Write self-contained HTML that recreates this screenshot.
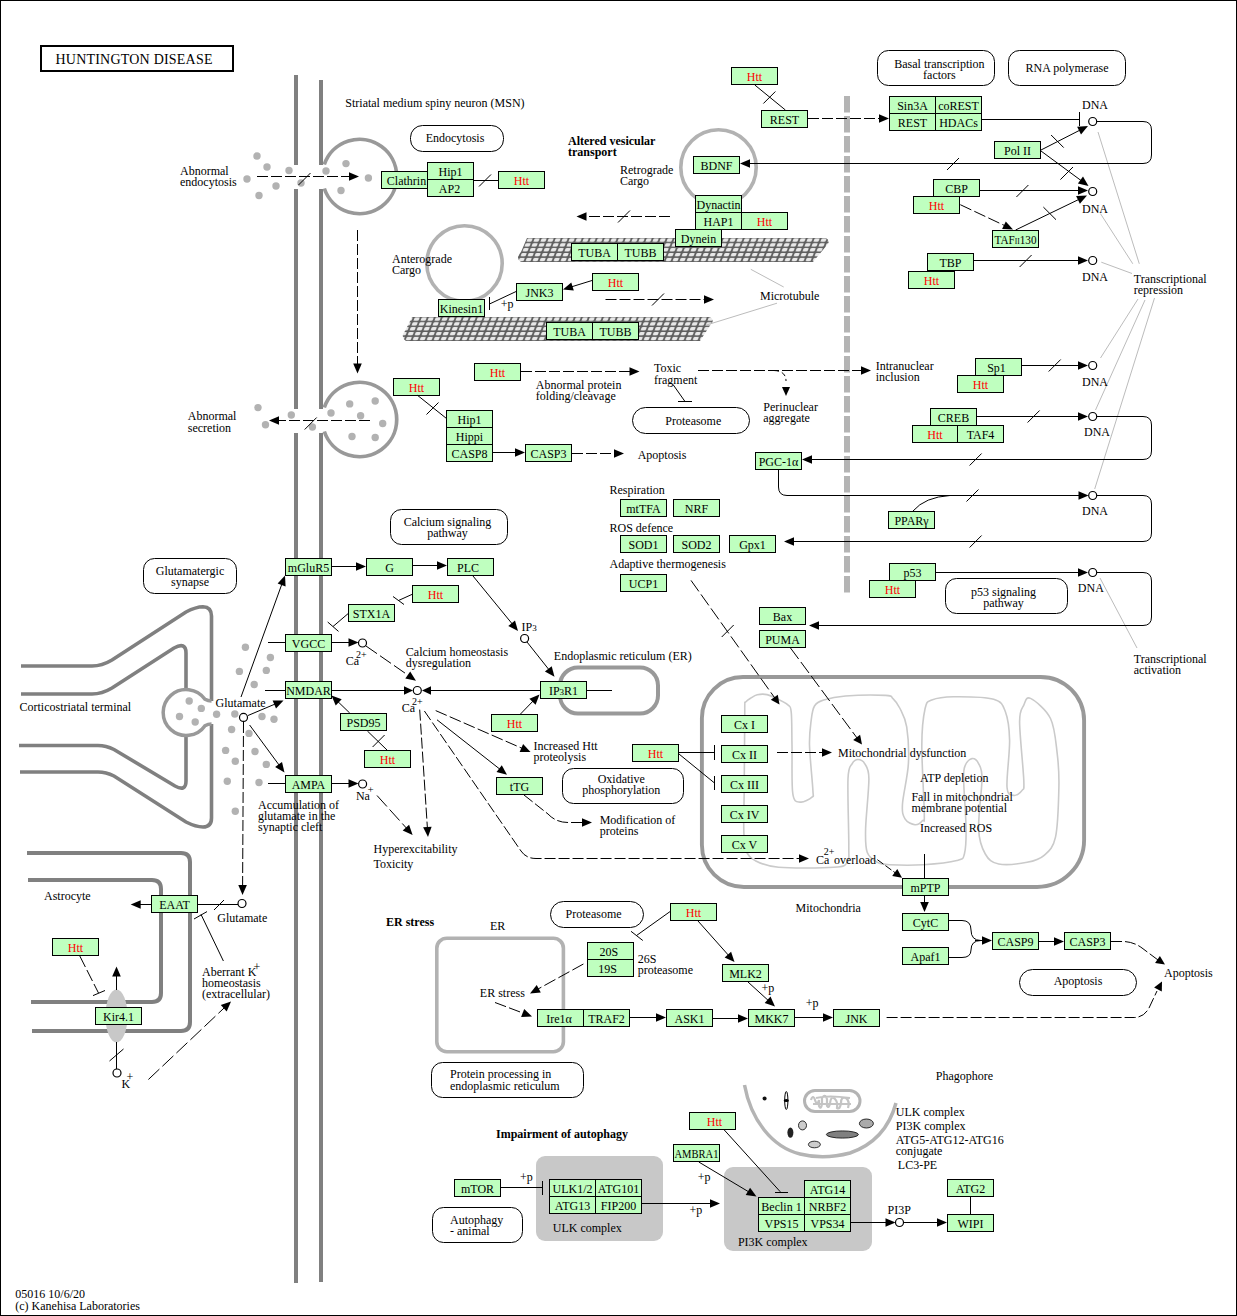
<!DOCTYPE html>
<html><head><meta charset="utf-8"><title>Huntington disease</title>
<style>
html,body{margin:0;padding:0;background:#fff;}
svg{display:block;font-family:"Liberation Serif",serif;}
text{font-family:"Liberation Serif",serif;fill:#000;}
</style></head><body>
<svg width="1237" height="1316" viewBox="0 0 1237 1316">
<defs>
<pattern id="mt" x="0" y="237.6" width="7" height="4.85" patternUnits="userSpaceOnUse" patternTransform="skewX(-22)">
<rect width="7" height="4.85" fill="#5e5e5e"/>
<rect x="1" y="0.8" width="5.1" height="3.4" rx="0.9" ry="0.9" fill="#e8e8e8"/>
</pattern>
<pattern id="mt2" x="3" y="316.6" width="7" height="4.85" patternUnits="userSpaceOnUse" patternTransform="skewX(-22)">
<rect width="7" height="4.85" fill="#5e5e5e"/>
<rect x="1" y="0.8" width="5.1" height="3.4" rx="0.9" ry="0.9" fill="#e8e8e8"/>
</pattern>
</defs>
<rect x="0" y="0" width="1237" height="1316" fill="#fff"/>
<rect x="0.5" y="0.5" width="1236" height="1315" fill="none" stroke="#000" stroke-width="1" shape-rendering="crispEdges"/>
<rect x="41" y="46" width="192" height="25" fill="#fff" stroke="#000" stroke-width="2" shape-rendering="crispEdges"/>
<text x="55.5" y="63.6" font-size="14" textLength="157" lengthAdjust="spacing">HUNTINGTON DISEASE</text>
<rect x="294" y="75" width="4" height="90" fill="#808080"/>
<rect x="294" y="189" width="4" height="220" fill="#808080"/>
<rect x="294" y="433" width="4" height="850" fill="#808080"/>
<rect x="319" y="80" width="4" height="85" fill="#808080"/>
<rect x="319" y="189" width="4" height="220" fill="#808080"/>
<rect x="319" y="433" width="4" height="849" fill="#808080"/>
<path d="M324.3,164.5 A37.2,37.2 0 1 1 324.3,188.5" fill="none" stroke="#999999" stroke-width="3.7"/>
<path d="M324.3,407.5 A37.2,37.2 0 1 1 324.3,431.5" fill="none" stroke="#999999" stroke-width="3.7"/>
<circle cx="718.5" cy="167.5" r="37.7" fill="none" stroke="#b2b2b2" stroke-width="3.6"/>
<circle cx="464.5" cy="263.5" r="37.7" fill="none" stroke="#b2b2b2" stroke-width="3.6"/>
<line x1="847" y1="96" x2="847" y2="592.5" stroke="#b4b4b4" stroke-width="6" stroke-dasharray="16.5 3.5"/>
<path d="M527,238 L826,238 Q831,241 827,245 L813,262 L521,262 Q515,258 521,252 Z" fill="url(#mt)"/>
<path d="M412,317 L710,317 Q715,320 711,324 L700,341 L406,341 Q400,337 405,331 Z" fill="url(#mt2)"/>
<path d="M21,666 L92,666 Q102,666 112,660 L186,612 Q196,606.7 203,606.7 Q211.5,607 211.5,616 L211.5,701" fill="none" stroke="#808080" stroke-width="3.6"/>
<path d="M211.5,724 L211.5,818 Q211.5,827 203,827 Q196,827 186,822 L114,776 Q106,772 98,772 L20,772" fill="none" stroke="#808080" stroke-width="3.6"/>
<path d="M21,694 L92,694 Q102,694 112,688 L174,648 Q186,641.5 186,653 L186,688" fill="none" stroke="#808080" stroke-width="3.6"/>
<path d="M186,737 L186,781 Q186,792 175,786 L114,749.5 Q106,745.5 98,745.5 L19,745.5" fill="none" stroke="#808080" stroke-width="3.6"/>
<path d="M211.5,701 Q208,701 205,699.3 A23,23 0 1 0 205,725.7 Q208,724 211.5,724" fill="none" stroke="#999" stroke-width="3.5"/>
<path d="M27,853 L181,853 Q190,853 190,862 L190,1022 Q190,1031 181,1031 L32,1031" fill="none" stroke="#808080" stroke-width="4"/>
<path d="M28,880 L152,880 Q161,880 161,889 L161,993 Q161,1002 152,1002 L31,1002" fill="none" stroke="#808080" stroke-width="4"/>
<ellipse cx="116.5" cy="1016" rx="11" ry="26.5" fill="#c8c8c8"/>
<rect x="560" y="667.5" width="98" height="46" rx="18" ry="18" fill="none" stroke="#999" stroke-width="4"/>
<rect x="436.8" y="938.2" width="126.6" height="113.5" rx="10" ry="10" fill="none" stroke="#b2b2b2" stroke-width="3.6"/>
<path d="M742.9,677 L1040.6,677 A43.5,43.5 0 0 1 1084.1,720.5 L1084.1,840 A47,47 0 0 1 1037.1,887 L743.9,887 A42,42 0 0 1 701.9,845 L701.9,718 A41,41 0 0 1 742.9,677 Z" fill="none" stroke="#999" stroke-width="3.9"/>
<path d="M744.8,704.0 C744.9,701.0 744.4,703.2 745.4,702.2 C746.4,701.2 748.5,699.5 750.5,698.3 C752.5,697.1 754.5,695.4 757.2,694.8 C760.0,694.2 763.7,693.9 767.0,694.6 C770.3,695.3 773.6,697.1 777.0,698.8 C780.4,700.5 785.1,702.4 787.5,704.6 C789.9,706.8 790.5,705.1 791.2,711.9 C792.0,718.7 791.7,731.7 792.0,745.3 C792.3,758.9 791.4,784.2 792.8,793.7 C794.2,803.2 797.1,801.5 800.3,802.1 C803.5,802.7 809.9,799.1 812.0,797.1 C814.1,795.1 813.3,799.0 812.9,790.4 C812.5,781.8 809.8,757.0 809.5,745.3 C809.2,733.6 810.4,726.8 811.2,720.2 C812.0,713.7 812.4,709.4 814.5,706.0 C816.6,702.6 818.5,701.8 823.7,700.1 C828.9,698.4 835.2,696.8 845.5,696.0 C855.8,695.2 877.7,695.0 885.6,695.4 C893.5,695.8 890.6,696.4 893.0,698.6 C895.4,700.8 897.7,703.8 900.0,708.5 C902.3,713.2 905.3,717.7 906.7,726.9 C908.1,736.1 909.1,750.8 908.4,763.6 C907.7,776.4 903.1,794.6 902.5,803.8 C901.9,813.0 902.9,815.3 905.0,818.8 C907.1,822.3 912.1,824.4 915.0,824.7 C917.9,825.0 921.1,822.3 922.6,820.5 C924.1,818.7 924.4,826.3 924.3,813.8 C924.2,801.3 921.7,762.8 921.8,745.3 C921.9,727.8 923.4,716.0 925.1,708.5 C926.8,701.0 927.1,702.1 931.8,700.1 C936.5,698.1 943.2,696.9 953.5,696.8 C963.8,696.7 985.1,696.8 993.7,699.3 C1002.4,701.8 1002.8,705.0 1005.4,711.8 C1008.0,718.6 1009.3,727.7 1009.6,740.2 C1009.9,752.7 1006.3,777.8 1007.0,787.0 C1007.7,796.2 1011.2,794.8 1013.7,795.4 C1016.2,796.0 1020.4,792.9 1022.1,790.4 C1023.8,787.9 1024.2,791.8 1023.8,780.4 C1023.4,769.0 1019.6,734.3 1019.6,721.8 C1019.6,709.2 1022.0,709.0 1023.8,705.1 C1025.6,701.2 1026.0,696.2 1030.5,698.4 C1035.0,700.6 1046.0,709.3 1050.5,718.5 C1055.0,727.7 1055.8,742.2 1057.2,753.6 C1058.6,765.0 1059.2,773.1 1058.9,787.0 C1058.6,800.9 1058.0,825.8 1055.5,837.2 C1053.0,848.6 1048.5,851.4 1043.8,855.6 C1039.1,859.8 1034.6,860.9 1027.1,862.3 C1019.6,863.7 1005.7,865.4 998.7,864.0 C991.7,862.6 988.6,859.9 985.3,854.0 C981.9,848.1 979.1,841.4 978.6,828.9 C978.1,816.4 982.0,789.6 982.0,778.7 C982.0,767.8 980.3,767.0 978.6,763.6 C976.9,760.2 974.2,758.3 972.0,758.6 C969.8,758.9 966.7,761.9 965.3,765.3 C963.9,768.6 963.5,768.1 963.6,778.7 C963.7,789.3 966.0,816.4 966.1,828.9 C966.2,841.4 965.9,848.7 964.4,854.0 C962.9,859.3 963.7,858.8 956.9,860.6 C950.1,862.4 934.5,864.1 923.4,864.8 C912.2,865.5 897.7,865.2 890.0,864.8 C882.3,864.4 881.1,864.4 877.3,862.3 C873.5,860.2 869.2,857.9 867.2,852.3 C865.2,846.7 865.3,841.2 865.6,828.9 C865.9,816.6 869.0,789.6 868.9,778.7 C868.8,767.8 866.5,766.8 864.7,763.6 C862.9,760.4 860.1,759.5 858.0,759.5 C855.9,759.5 853.9,760.4 852.2,763.6 C850.5,766.8 848.6,765.0 848.0,778.7 C847.4,792.4 848.9,831.7 848.8,845.6 C848.7,859.5 849.7,858.7 847.2,862.3 C844.7,865.9 845.2,866.5 833.8,867.3 C822.4,868.1 791.7,868.4 778.6,867.3 C765.5,866.2 760.6,863.4 755.2,860.6 C749.8,857.8 747.9,855.6 746.0,850.6 C744.1,845.6 744.1,840.6 743.8,830.5 C743.5,820.4 744.1,803.4 744.2,790.0 C744.3,776.6 744.4,761.7 744.5,750.0 C744.6,738.3 744.7,727.7 744.7,720.0 C744.8,712.3 744.7,707.0 744.8,704.0Z" fill="none" stroke="#cacaca" stroke-width="1.6"/>
<rect x="536" y="1156" width="127" height="85" rx="9" ry="9" fill="#c8c8c8"/>
<rect x="724" y="1167" width="148" height="84" rx="9" ry="9" fill="#c8c8c8"/>
<path d="M744.5,1085 C751,1120 772,1147 800,1154 Q824,1160 850,1153 C876,1144 890,1125 896,1103" fill="none" stroke="#b4b4b4" stroke-width="3.5"/>
<rect x="804.5" y="1090.5" width="55.5" height="21" rx="10.5" ry="10.5" fill="#fff" stroke="#b4b4b4" stroke-width="3"/>
<path d="M811,1100 q2,-6 4,0 t4,0 v6 q2,4 3,-2 v-6 q3,-5 5,1 v7 q2,3 3,-3 q1,-8 5,-4 q3,3 2,9 q3,2 4,-5 q0,-7 5,-5 q4,3 2,10 M813,1104 h38 M816,1098 q12,-3 34,0" fill="none" stroke="#c4c4c4" stroke-width="2.2"/>
<circle cx="764.6" cy="1098.5" r="2" fill="#111"/>
<ellipse cx="786.3" cy="1100.5" rx="1.6" ry="9" fill="#fff" stroke="#000" stroke-width="1"/>
<ellipse cx="786.3" cy="1100.5" rx="2.6" ry="1.6" fill="#000"/>
<ellipse cx="802.5" cy="1125.4" rx="4" ry="4.5" fill="#ccc" stroke="#000" stroke-width="0.8"/>
<ellipse cx="790.4" cy="1132.6" rx="3" ry="5.2" fill="#222"/>
<ellipse cx="814.4" cy="1144.5" rx="6" ry="3.3" fill="#ccc" stroke="#000" stroke-width="0.8"/>
<ellipse cx="842.4" cy="1134.5" rx="16" ry="3.6" fill="#808080" stroke="#000" stroke-width="0.8"/>
<ellipse cx="866.4" cy="1123.5" rx="7" ry="4.5" fill="#aaa" stroke="#000" stroke-width="0.8"/>
<circle cx="257" cy="156" r="3.7" fill="#b2b2b2"/>
<circle cx="267" cy="167" r="3.7" fill="#b2b2b2"/>
<circle cx="289" cy="170.5" r="3.7" fill="#b2b2b2"/>
<circle cx="247" cy="179" r="3.7" fill="#b2b2b2"/>
<circle cx="276" cy="186" r="3.7" fill="#b2b2b2"/>
<circle cx="259" cy="195.5" r="3.7" fill="#b2b2b2"/>
<circle cx="301" cy="183" r="3.7" fill="#b2b2b2"/>
<circle cx="326" cy="171" r="3.7" fill="#b2b2b2"/>
<circle cx="346" cy="163.6" r="3.7" fill="#b2b2b2"/>
<circle cx="368.4" cy="178" r="3.7" fill="#b2b2b2"/>
<circle cx="341" cy="190.5" r="3.7" fill="#b2b2b2"/>
<circle cx="349.7" cy="403.9" r="3.7" fill="#b2b2b2"/>
<circle cx="375.2" cy="401" r="3.7" fill="#b2b2b2"/>
<circle cx="331" cy="413" r="3.7" fill="#b2b2b2"/>
<circle cx="360.6" cy="415.7" r="3.7" fill="#b2b2b2"/>
<circle cx="382.7" cy="423.5" r="3.7" fill="#b2b2b2"/>
<circle cx="352" cy="436.5" r="3.7" fill="#b2b2b2"/>
<circle cx="375.2" cy="437.5" r="3.7" fill="#b2b2b2"/>
<circle cx="258" cy="407.6" r="3.7" fill="#b2b2b2"/>
<circle cx="291.3" cy="415" r="3.7" fill="#b2b2b2"/>
<circle cx="265.5" cy="424.7" r="3.7" fill="#b2b2b2"/>
<circle cx="312.4" cy="427" r="3.7" fill="#b2b2b2"/>
<circle cx="245.4" cy="647.3" r="3.7" fill="#b2b2b2"/>
<circle cx="270.4" cy="657.5" r="3.7" fill="#b2b2b2"/>
<circle cx="239.4" cy="671.4" r="3.7" fill="#b2b2b2"/>
<circle cx="266.3" cy="670.4" r="3.7" fill="#b2b2b2"/>
<circle cx="254.2" cy="684.5" r="3.7" fill="#b2b2b2"/>
<circle cx="189.2" cy="701" r="3.7" fill="#b2b2b2"/>
<circle cx="201.3" cy="708.4" r="3.7" fill="#b2b2b2"/>
<circle cx="179.5" cy="716.5" r="3.7" fill="#b2b2b2"/>
<circle cx="195.2" cy="722" r="3.7" fill="#b2b2b2"/>
<circle cx="216.6" cy="714.3" r="3.7" fill="#b2b2b2"/>
<circle cx="234.8" cy="714" r="3.7" fill="#b2b2b2"/>
<circle cx="262" cy="716.5" r="3.7" fill="#b2b2b2"/>
<circle cx="274" cy="719.3" r="3.7" fill="#b2b2b2"/>
<circle cx="231.6" cy="729.5" r="3.7" fill="#b2b2b2"/>
<circle cx="249" cy="733.4" r="3.7" fill="#b2b2b2"/>
<circle cx="225.6" cy="750.4" r="3.7" fill="#b2b2b2"/>
<circle cx="255" cy="751.5" r="3.7" fill="#b2b2b2"/>
<circle cx="235.3" cy="761.3" r="3.7" fill="#b2b2b2"/>
<circle cx="266.3" cy="764.4" r="3.7" fill="#b2b2b2"/>
<circle cx="227.3" cy="781.3" r="3.7" fill="#b2b2b2"/>
<circle cx="259" cy="782.5" r="3.7" fill="#b2b2b2"/>
<circle cx="235.3" cy="811.3" r="3.7" fill="#b2b2b2"/>
<line x1="1098" y1="132" x2="1139.3" y2="263.8" stroke="#bcbcbc" stroke-width="1"/>
<line x1="1100.5" y1="213.7" x2="1132.8" y2="263.8" stroke="#bcbcbc" stroke-width="1"/>
<line x1="1101.3" y1="262.2" x2="1132" y2="273.5" stroke="#bcbcbc" stroke-width="1"/>
<line x1="1138" y1="299" x2="1100.5" y2="358" stroke="#bcbcbc" stroke-width="1"/>
<line x1="1145" y1="300" x2="1095.5" y2="410" stroke="#bcbcbc" stroke-width="1"/>
<line x1="1154.5" y1="298" x2="1094.7" y2="489" stroke="#bcbcbc" stroke-width="1"/>
<line x1="1100" y1="578" x2="1137" y2="648" stroke="#bcbcbc" stroke-width="1"/>
<line x1="750.8" y1="269.3" x2="783.7" y2="287" stroke="#bcbcbc" stroke-width="1"/>
<line x1="777" y1="303.2" x2="705.6" y2="325.3" stroke="#bcbcbc" stroke-width="1"/>
<text x="345.3" y="106.7" font-size="12">Striatal medium spiny neuron (MSN)</text>
<rect x="410.5" y="125.5" width="93" height="26" rx="12" ry="12" fill="#fff" stroke="#000" stroke-width="1"/>
<text x="455.0" y="142.2" font-size="12" text-anchor="middle">Endocytosis</text>
<text x="180" y="174.7" font-size="12">Abnormal</text>
<text x="180" y="186.4" font-size="12">endocytosis</text>
<line x1="257" y1="176.5" x2="350.0" y2="176.5" stroke="#000" stroke-width="1" stroke-dasharray="11.00 3.00"/>
<polygon points="359.0,176.5 349.0,180.8 349.0,172.2" fill="#000"/>
<line x1="298.5" y1="185" x2="310.5" y2="173" stroke="#000" stroke-width="1"/>
<rect x="381.5" y="171.5" width="46" height="17" fill="#bfffbf" stroke="#000" stroke-width="1" shape-rendering="crispEdges"/>
<text x="406.5" y="184.5" text-anchor="middle" font-size="12">Clathrin</text>
<rect x="427.5" y="162.5" width="46" height="17" fill="#bfffbf" stroke="#000" stroke-width="1" shape-rendering="crispEdges"/>
<text x="450.5" y="175.5" text-anchor="middle" font-size="12">Hip1</text>
<rect x="427.5" y="179.5" width="46" height="17" fill="#bfffbf" stroke="#000" stroke-width="1" shape-rendering="crispEdges"/>
<text x="449.5" y="192.5" text-anchor="middle" font-size="12">AP2</text>
<rect x="498.5" y="171.5" width="46" height="17" fill="#bfffbf" stroke="#000" stroke-width="1" shape-rendering="crispEdges"/>
<text x="521.5" y="184.5" text-anchor="middle" font-size="12" style="fill:#f00">Htt</text>
<line x1="474" y1="180.5" x2="498" y2="180.5" stroke="#000" stroke-width="1" shape-rendering="crispEdges"/>
<line x1="479" y1="186.5" x2="491" y2="174.5" stroke="#000" stroke-width="1"/>
<line x1="357.5" y1="230" x2="357.5" y2="364.5" stroke="#000" stroke-width="1" stroke-dasharray="11.00 3.00"/>
<polygon points="357.5,373.5 353.2,363.5 361.8,363.5" fill="#000"/>
<text x="187.8" y="420.2" font-size="12">Abnormal</text>
<text x="187.8" y="431.7" font-size="12">secretion</text>
<line x1="370" y1="420.5" x2="278.0" y2="420.5" stroke="#000" stroke-width="1" stroke-dasharray="11.00 3.00"/>
<polygon points="269.0,420.5 279.0,416.2 279.0,424.8" fill="#000"/>
<line x1="304.7" y1="429.5" x2="316.7" y2="417.5" stroke="#000" stroke-width="1"/>
<text x="392" y="262.7" font-size="12">Anterograde</text>
<text x="392" y="274.0" font-size="12">Cargo</text>
<text x="568" y="145.2" font-size="12" font-weight="bold">Altered vesicular</text>
<text x="568" y="156.4" font-size="12" font-weight="bold">transport</text>
<text x="620" y="173.7" font-size="12">Retrograde</text>
<text x="620" y="185.1" font-size="12">Cargo</text>
<line x1="670" y1="216.5" x2="585.5" y2="216.5" stroke="#000" stroke-width="1" stroke-dasharray="11.00 3.00"/>
<polygon points="576.5,216.5 586.5,212.2 586.5,220.8" fill="#000"/>
<line x1="618" y1="222.5" x2="630" y2="210.5" stroke="#000" stroke-width="1"/>
<rect x="731.5" y="67.5" width="46" height="17" fill="#bfffbf" stroke="#000" stroke-width="1" shape-rendering="crispEdges"/>
<text x="754.5" y="80.5" text-anchor="middle" font-size="12" style="fill:#f00">Htt</text>
<rect x="761.5" y="110.5" width="46" height="17" fill="#bfffbf" stroke="#000" stroke-width="1" shape-rendering="crispEdges"/>
<text x="784.5" y="123.5" text-anchor="middle" font-size="12">REST</text>
<line x1="754.8" y1="85" x2="785.4" y2="110" stroke="#000" stroke-width="1"/>
<line x1="763.4" y1="103.5" x2="775.4" y2="91.5" stroke="#000" stroke-width="1"/>
<line x1="808" y1="118.5" x2="880.0" y2="118.5" stroke="#000" stroke-width="1" stroke-dasharray="11.00 3.00"/>
<polygon points="889.0,118.5 879.0,122.8 879.0,114.2" fill="#000"/>
<rect x="693.5" y="156.5" width="46" height="17" fill="#bfffbf" stroke="#000" stroke-width="1" shape-rendering="crispEdges"/>
<text x="716.5" y="169.5" text-anchor="middle" font-size="12">BDNF</text>
<rect x="695.5" y="195.5" width="46" height="17" fill="#bfffbf" stroke="#000" stroke-width="1" shape-rendering="crispEdges"/>
<text x="718.5" y="208.5" text-anchor="middle" font-size="12">Dynactin</text>
<rect x="695.5" y="212.5" width="46" height="17" fill="#bfffbf" stroke="#000" stroke-width="1" shape-rendering="crispEdges"/>
<text x="718.5" y="225.5" text-anchor="middle" font-size="12">HAP1</text>
<rect x="741.5" y="212.5" width="46" height="17" fill="#bfffbf" stroke="#000" stroke-width="1" shape-rendering="crispEdges"/>
<text x="764.5" y="225.5" text-anchor="middle" font-size="12" style="fill:#f00">Htt</text>
<rect x="675.5" y="229.5" width="46" height="17" fill="#bfffbf" stroke="#000" stroke-width="1" shape-rendering="crispEdges"/>
<text x="698.5" y="242.5" text-anchor="middle" font-size="12">Dynein</text>
<rect x="571.5" y="243.5" width="46" height="17" fill="#bfffbf" stroke="#000" stroke-width="1" shape-rendering="crispEdges"/>
<text x="594.5" y="256.5" text-anchor="middle" font-size="12">TUBA</text>
<rect x="617.5" y="243.5" width="46" height="17" fill="#bfffbf" stroke="#000" stroke-width="1" shape-rendering="crispEdges"/>
<text x="640.5" y="256.5" text-anchor="middle" font-size="12">TUBB</text>
<rect x="546.5" y="322.5" width="46" height="17" fill="#bfffbf" stroke="#000" stroke-width="1" shape-rendering="crispEdges"/>
<text x="569.5" y="335.5" text-anchor="middle" font-size="12">TUBA</text>
<rect x="592.5" y="322.5" width="46" height="17" fill="#bfffbf" stroke="#000" stroke-width="1" shape-rendering="crispEdges"/>
<text x="615.5" y="335.5" text-anchor="middle" font-size="12">TUBB</text>
<rect x="516.5" y="283.5" width="46" height="17" fill="#bfffbf" stroke="#000" stroke-width="1" shape-rendering="crispEdges"/>
<text x="539.5" y="296.5" text-anchor="middle" font-size="12">JNK3</text>
<rect x="592.5" y="273.5" width="46" height="17" fill="#bfffbf" stroke="#000" stroke-width="1" shape-rendering="crispEdges"/>
<text x="615.5" y="286.5" text-anchor="middle" font-size="12" style="fill:#f00">Htt</text>
<rect x="438.5" y="299.5" width="46" height="17" fill="#bfffbf" stroke="#000" stroke-width="1" shape-rendering="crispEdges"/>
<text x="461.5" y="312.5" text-anchor="middle" font-size="12">Kinesin1</text>
<line x1="592" y1="280.5" x2="571.6" y2="286.8" stroke="#000" stroke-width="1"/>
<polygon points="563.0,289.5 571.3,282.4 573.8,290.6" fill="#000"/>
<line x1="516.5" y1="291.3" x2="489.5" y2="304" stroke="#000" stroke-width="1"/>
<line x1="489.5" y1="297" x2="489.5" y2="310" stroke="#000" stroke-width="1" shape-rendering="crispEdges"/>
<text x="500.8" y="308.0" font-size="12">+p</text>
<line x1="605.5" y1="299.5" x2="705.0" y2="299.5" stroke="#000" stroke-width="1" stroke-dasharray="11.00 3.00"/>
<polygon points="714.0,299.5 704.0,303.8 704.0,295.2" fill="#000"/>
<line x1="652" y1="305.5" x2="664" y2="293.5" stroke="#000" stroke-width="1"/>
<text x="760" y="300.2" font-size="12">Microtubule</text>
<rect x="877.5" y="50.5" width="117" height="35" rx="11" ry="11" fill="#fff" stroke="#000" stroke-width="1"/>
<text x="939.4" y="68.1" font-size="12" text-anchor="middle">Basal transcription</text>
<text x="939.4" y="79.1" font-size="12" text-anchor="middle">factors</text>
<rect x="1008.5" y="50.5" width="117" height="35" rx="11" ry="11" fill="#fff" stroke="#000" stroke-width="1"/>
<text x="1067.0" y="72.1" font-size="12" text-anchor="middle">RNA polymerase</text>
<rect x="889.5" y="96.5" width="46" height="17" fill="#bfffbf" stroke="#000" stroke-width="1" shape-rendering="crispEdges"/>
<text x="912.5" y="109.5" text-anchor="middle" font-size="12">Sin3A</text>
<rect x="935.5" y="96.5" width="46" height="17" fill="#bfffbf" stroke="#000" stroke-width="1" shape-rendering="crispEdges"/>
<text x="958.5" y="109.5" text-anchor="middle" font-size="12">coREST</text>
<rect x="889.5" y="113.5" width="46" height="17" fill="#bfffbf" stroke="#000" stroke-width="1" shape-rendering="crispEdges"/>
<text x="912.5" y="126.5" text-anchor="middle" font-size="12">REST</text>
<rect x="935.5" y="113.5" width="46" height="17" fill="#bfffbf" stroke="#000" stroke-width="1" shape-rendering="crispEdges"/>
<text x="958.5" y="126.5" text-anchor="middle" font-size="12">HDACs</text>
<text x="1082" y="108.6" font-size="12">DNA</text>
<line x1="982" y1="119.5" x2="1079" y2="119.5" stroke="#000" stroke-width="1" shape-rendering="crispEdges"/>
<line x1="1079.5" y1="112" x2="1079.5" y2="126" stroke="#000" stroke-width="1" shape-rendering="crispEdges"/>
<path d="M1097,121.5 L1143,121.5 Q1151.5,121.5 1151.5,130 L1151.5,155 Q1151.5,163.5 1143,163.5 L749,163.5" fill="none" stroke="#000" stroke-width="1"/>
<polygon points="740.0,163.5 750.0,159.2 750.0,167.8" fill="#000"/>
<line x1="947" y1="170" x2="959" y2="158" stroke="#000" stroke-width="1"/>
<rect x="994.5" y="141.5" width="46" height="17" fill="#bfffbf" stroke="#000" stroke-width="1" shape-rendering="crispEdges"/>
<text x="1017.5" y="154.5" text-anchor="middle" font-size="12">Pol II</text>
<line x1="1041" y1="150" x2="1080.0" y2="130.1" stroke="#000" stroke-width="1"/>
<polygon points="1088.0,126.0 1081.0,134.4 1077.1,126.7" fill="#000"/>
<line x1="1051.1000000000001" y1="135.0" x2="1063.7" y2="147.60000000000002" stroke="#000" stroke-width="1"/>
<line x1="1041" y1="151" x2="1081.3" y2="180.7" stroke="#000" stroke-width="1"/>
<polygon points="1088.5,186.0 1077.9,183.5 1083.0,176.6" fill="#000"/>
<line x1="1060.4" y1="179.60000000000002" x2="1073.0" y2="167.0" stroke="#000" stroke-width="1"/>
<rect x="933.5" y="179.5" width="46" height="17" fill="#bfffbf" stroke="#000" stroke-width="1" shape-rendering="crispEdges"/>
<text x="956.5" y="192.5" text-anchor="middle" font-size="12">CBP</text>
<rect x="913.5" y="196.5" width="46" height="17" fill="#bfffbf" stroke="#000" stroke-width="1" shape-rendering="crispEdges"/>
<text x="936.5" y="209.5" text-anchor="middle" font-size="12" style="fill:#f00">Htt</text>
<line x1="980" y1="190.5" x2="1079.0" y2="190.5" stroke="#000" stroke-width="1" shape-rendering="crispEdges"/>
<polygon points="1088.0,190.5 1078.0,194.8 1078.0,186.2" fill="#000"/>
<line x1="1016.4" y1="197" x2="1028.4" y2="185" stroke="#000" stroke-width="1"/>
<text x="1082" y="212.6" font-size="12">DNA</text>
<line x1="960.3" y1="204.7" x2="1004.9" y2="225.7" stroke="#000" stroke-width="1" stroke-dasharray="12.16 3.32"/>
<polygon points="1013.0,229.5 1002.1,229.1 1005.8,221.4" fill="#000"/>
<rect x="992.5" y="230.5" width="46" height="17" fill="#bfffbf" stroke="#000" stroke-width="1" shape-rendering="crispEdges"/>
<text x="1015.5" y="243.5" text-anchor="middle" font-size="12" textLength="42" lengthAdjust="spacingAndGlyphs">TAF<tspan font-size="8">II</tspan>130</text>
<line x1="1015.6" y1="230" x2="1078.9" y2="199.4" stroke="#000" stroke-width="1"/>
<polygon points="1087.0,195.5 1079.9,203.7 1076.1,196.0" fill="#000"/>
<line x1="1043.4" y1="207.1" x2="1056.0" y2="219.70000000000002" stroke="#000" stroke-width="1"/>
<rect x="927.5" y="253.5" width="46" height="17" fill="#bfffbf" stroke="#000" stroke-width="1" shape-rendering="crispEdges"/>
<text x="950.5" y="266.5" text-anchor="middle" font-size="12">TBP</text>
<rect x="908.5" y="271.5" width="46" height="17" fill="#bfffbf" stroke="#000" stroke-width="1" shape-rendering="crispEdges"/>
<text x="931.5" y="284.5" text-anchor="middle" font-size="12" style="fill:#f00">Htt</text>
<line x1="974" y1="260.5" x2="1079.0" y2="260.5" stroke="#000" stroke-width="1" shape-rendering="crispEdges"/>
<polygon points="1088.0,260.5 1078.0,264.8 1078.0,256.2" fill="#000"/>
<line x1="1019.5999999999999" y1="267" x2="1031.6" y2="255" stroke="#000" stroke-width="1"/>
<text x="1082" y="280.8" font-size="12">DNA</text>
<text x="1133.8" y="282.7" font-size="12">Transcriptional</text>
<text x="1133.8" y="293.9" font-size="12">repression</text>
<circle cx="1092.7" cy="121.5" r="4" fill="#fff" stroke="#000" stroke-width="1.2"/>
<circle cx="1092.7" cy="191.5" r="4" fill="#fff" stroke="#000" stroke-width="1.2"/>
<circle cx="1092.7" cy="260.5" r="4" fill="#fff" stroke="#000" stroke-width="1.2"/>
<circle cx="1092.7" cy="365.5" r="4" fill="#fff" stroke="#000" stroke-width="1.2"/>
<circle cx="1092.7" cy="416.5" r="4" fill="#fff" stroke="#000" stroke-width="1.2"/>
<circle cx="1092.7" cy="495.5" r="4" fill="#fff" stroke="#000" stroke-width="1.2"/>
<circle cx="1092.7" cy="572.5" r="4" fill="#fff" stroke="#000" stroke-width="1.2"/>
<text x="875.7" y="369.7" font-size="12">Intranuclear</text>
<text x="875.7" y="381.1" font-size="12">inclusion</text>
<rect x="975.5" y="358.5" width="46" height="17" fill="#bfffbf" stroke="#000" stroke-width="1" shape-rendering="crispEdges"/>
<text x="996.5" y="371.5" text-anchor="middle" font-size="12">Sp1</text>
<rect x="957.5" y="375.5" width="46" height="17" fill="#bfffbf" stroke="#000" stroke-width="1" shape-rendering="crispEdges"/>
<text x="980.5" y="388.5" text-anchor="middle" font-size="12" style="fill:#f00">Htt</text>
<line x1="1022" y1="365.5" x2="1079.0" y2="365.5" stroke="#000" stroke-width="1" shape-rendering="crispEdges"/>
<polygon points="1088.0,365.5 1078.0,369.8 1078.0,361.2" fill="#000"/>
<line x1="1048.7" y1="371.5" x2="1060.7" y2="359.5" stroke="#000" stroke-width="1"/>
<text x="1082" y="386.2" font-size="12">DNA</text>
<rect x="930.5" y="408.5" width="46" height="17" fill="#bfffbf" stroke="#000" stroke-width="1" shape-rendering="crispEdges"/>
<text x="953.5" y="421.5" text-anchor="middle" font-size="12">CREB</text>
<rect x="912.5" y="425.5" width="45" height="17" fill="#bfffbf" stroke="#000" stroke-width="1" shape-rendering="crispEdges"/>
<text x="935.0" y="438.5" text-anchor="middle" font-size="12" style="fill:#f00">Htt</text>
<rect x="957.5" y="425.5" width="46" height="17" fill="#bfffbf" stroke="#000" stroke-width="1" shape-rendering="crispEdges"/>
<text x="980.5" y="438.5" text-anchor="middle" font-size="12">TAF4</text>
<line x1="977" y1="416.5" x2="1079.0" y2="416.5" stroke="#000" stroke-width="1" shape-rendering="crispEdges"/>
<polygon points="1088.0,416.5 1078.0,420.8 1078.0,412.2" fill="#000"/>
<line x1="1027.6" y1="422.5" x2="1039.6" y2="410.5" stroke="#000" stroke-width="1"/>
<text x="1084" y="436.2" font-size="12">DNA</text>
<path d="M1097,416.5 L1143,416.5 Q1151.5,416.5 1151.5,425 L1151.5,451 Q1151.5,459.5 1143,459.5 L811,459.5" fill="none" stroke="#000" stroke-width="1"/>
<polygon points="802.0,459.5 812.0,455.2 812.0,463.8" fill="#000"/>
<line x1="969.6" y1="465.5" x2="981.6" y2="453.5" stroke="#000" stroke-width="1"/>
<rect x="755.5" y="452.5" width="46" height="17" fill="#bfffbf" stroke="#000" stroke-width="1" shape-rendering="crispEdges"/>
<text x="778.5" y="465.5" text-anchor="middle" font-size="12">PGC-1&#945;</text>
<path d="M778.5,470 L778.5,487 Q778.5,495.5 787,495.5 L1080,495.5" fill="none" stroke="#000" stroke-width="1"/>
<polygon points="1088.5,495.5 1078.5,499.8 1078.5,491.2" fill="#000"/>
<line x1="966.5" y1="501.5" x2="978.5" y2="489.5" stroke="#000" stroke-width="1"/>
<text x="1082" y="514.7" font-size="12">DNA</text>
<rect x="888.5" y="511.5" width="46" height="17" fill="#bfffbf" stroke="#000" stroke-width="1" shape-rendering="crispEdges"/>
<text x="911.5" y="524.5" text-anchor="middle" font-size="12">PPAR&#947;</text>
<path d="M913,511 Q925,497 950,495.5" fill="none" stroke="#000" stroke-width="1"/>
<path d="M1097,495.5 L1143,495.5 Q1151.5,495.5 1151.5,504 L1151.5,533 Q1151.5,541.5 1143,541.5 L793,541.5" fill="none" stroke="#000" stroke-width="1"/>
<polygon points="784.0,541.5 794.0,537.2 794.0,545.8" fill="#000"/>
<line x1="969.6" y1="547.5" x2="981.6" y2="535.5" stroke="#000" stroke-width="1"/>
<rect x="889.5" y="563.5" width="46" height="17" fill="#bfffbf" stroke="#000" stroke-width="1" shape-rendering="crispEdges"/>
<text x="912.5" y="576.5" text-anchor="middle" font-size="12">p53</text>
<rect x="869.5" y="580.5" width="46" height="17" fill="#bfffbf" stroke="#000" stroke-width="1" shape-rendering="crispEdges"/>
<text x="892.5" y="593.5" text-anchor="middle" font-size="12" style="fill:#f00">Htt</text>
<line x1="936" y1="572.5" x2="1079.0" y2="572.5" stroke="#000" stroke-width="1" shape-rendering="crispEdges"/>
<polygon points="1088.0,572.5 1078.0,576.8 1078.0,568.2" fill="#000"/>
<text x="1077.8" y="592.3" font-size="12">DNA</text>
<rect x="945.5" y="578.5" width="122" height="35" rx="11" ry="11" fill="#fff" stroke="#000" stroke-width="1"/>
<text x="1003.5" y="595.7" font-size="12" text-anchor="middle">p53 signaling</text>
<text x="1003.5" y="606.7" font-size="12" text-anchor="middle">pathway</text>
<path d="M1097,572.5 L1143,572.5 Q1151.5,572.5 1151.5,581 L1151.5,617 Q1151.5,625.5 1143,625.5 L818,625.5" fill="none" stroke="#000" stroke-width="1"/>
<polygon points="809.0,625.5 819.0,621.2 819.0,629.8" fill="#000"/>
<text x="1133.8" y="662.7" font-size="12">Transcriptional</text>
<text x="1133.8" y="673.7" font-size="12">activation</text>
<rect x="474.5" y="363.5" width="46" height="17" fill="#bfffbf" stroke="#000" stroke-width="1" shape-rendering="crispEdges"/>
<text x="497.5" y="376.5" text-anchor="middle" font-size="12" style="fill:#f00">Htt</text>
<line x1="521" y1="371.5" x2="630.5" y2="371.5" stroke="#000" stroke-width="1" stroke-dasharray="11.00 3.00"/>
<polygon points="639.5,371.5 629.5,375.8 629.5,367.2" fill="#000"/>
<text x="654" y="371.7" font-size="12">Toxic</text>
<text x="654" y="383.5" font-size="12">fragment</text>
<text x="535.8" y="388.7" font-size="12">Abnormal protein</text>
<text x="535.8" y="399.5" font-size="12">folding/cleavage</text>
<line x1="698" y1="370.5" x2="862.0" y2="370.5" stroke="#000" stroke-width="1" stroke-dasharray="11.00 3.00"/>
<polygon points="871.0,370.5 861.0,374.8 861.0,366.2" fill="#000"/>
<path d="M774,370.5 Q786,371 786,381" fill="none" stroke="#000" stroke-width="1" stroke-dasharray="5 3"/>
<polygon points="786.0,396.0 782.0,387.0 790.0,387.0" fill="#000"/>
<text x="763.3" y="410.7" font-size="12">Perinuclear</text>
<text x="763.3" y="421.5" font-size="12">aggregate</text>
<line x1="673" y1="384.5" x2="685" y2="401.5" stroke="#000" stroke-width="1"/>
<line x1="678" y1="401.5" x2="692" y2="401.5" stroke="#000" stroke-width="1" shape-rendering="crispEdges"/>
<rect x="632.5" y="407.5" width="117" height="26" rx="13" ry="13" fill="#fff" stroke="#000" stroke-width="1"/>
<text x="693.3" y="425.0" font-size="12" text-anchor="middle">Proteasome</text>
<rect x="393.5" y="378.5" width="46" height="17" fill="#bfffbf" stroke="#000" stroke-width="1" shape-rendering="crispEdges"/>
<text x="416.5" y="391.5" text-anchor="middle" font-size="12" style="fill:#f00">Htt</text>
<line x1="417.6" y1="395.4" x2="446.5" y2="418.5" stroke="#000" stroke-width="1"/>
<line x1="426.5" y1="414.5" x2="438.5" y2="402.5" stroke="#000" stroke-width="1"/>
<rect x="446.5" y="410.5" width="46" height="17" fill="#bfffbf" stroke="#000" stroke-width="1" shape-rendering="crispEdges"/>
<text x="469.5" y="423.5" text-anchor="middle" font-size="12">Hip1</text>
<rect x="446.5" y="427.5" width="46" height="17" fill="#bfffbf" stroke="#000" stroke-width="1" shape-rendering="crispEdges"/>
<text x="469.5" y="440.5" text-anchor="middle" font-size="12">Hippi</text>
<rect x="446.5" y="444.5" width="46" height="17" fill="#bfffbf" stroke="#000" stroke-width="1" shape-rendering="crispEdges"/>
<text x="469.5" y="457.5" text-anchor="middle" font-size="12">CASP8</text>
<line x1="493" y1="452.5" x2="516.0" y2="452.5" stroke="#000" stroke-width="1" shape-rendering="crispEdges"/>
<polygon points="525.0,452.5 515.0,456.8 515.0,448.2" fill="#000"/>
<rect x="525.5" y="444.5" width="46" height="17" fill="#bfffbf" stroke="#000" stroke-width="1" shape-rendering="crispEdges"/>
<text x="548.5" y="457.5" text-anchor="middle" font-size="12">CASP3</text>
<line x1="572" y1="453.5" x2="615.0" y2="453.5" stroke="#000" stroke-width="1" stroke-dasharray="11.00 3.00"/>
<polygon points="624.0,453.5 614.0,457.8 614.0,449.2" fill="#000"/>
<text x="637.7" y="459.2" font-size="12">Apoptosis</text>
<text x="609.5" y="493.7" font-size="12">Respiration</text>
<rect x="620.5" y="499.5" width="46" height="17" fill="#bfffbf" stroke="#000" stroke-width="1" shape-rendering="crispEdges"/>
<text x="643.5" y="512.5" text-anchor="middle" font-size="12">mtTFA</text>
<rect x="673.5" y="499.5" width="46" height="17" fill="#bfffbf" stroke="#000" stroke-width="1" shape-rendering="crispEdges"/>
<text x="696.5" y="512.5" text-anchor="middle" font-size="12">NRF</text>
<text x="609.5" y="531.7" font-size="12">ROS defence</text>
<rect x="620.5" y="535.5" width="46" height="17" fill="#bfffbf" stroke="#000" stroke-width="1" shape-rendering="crispEdges"/>
<text x="643.5" y="548.5" text-anchor="middle" font-size="12">SOD1</text>
<rect x="673.5" y="535.5" width="46" height="17" fill="#bfffbf" stroke="#000" stroke-width="1" shape-rendering="crispEdges"/>
<text x="696.5" y="548.5" text-anchor="middle" font-size="12">SOD2</text>
<rect x="729.5" y="535.5" width="46" height="17" fill="#bfffbf" stroke="#000" stroke-width="1" shape-rendering="crispEdges"/>
<text x="752.5" y="548.5" text-anchor="middle" font-size="12">Gpx1</text>
<text x="609.5" y="567.7" font-size="12">Adaptive thermogenesis</text>
<rect x="620.5" y="574.5" width="46" height="17" fill="#bfffbf" stroke="#000" stroke-width="1" shape-rendering="crispEdges"/>
<text x="643.5" y="587.5" text-anchor="middle" font-size="12">UCP1</text>
<line x1="691" y1="580.4" x2="774.9" y2="698.1" stroke="#000" stroke-width="1" stroke-dasharray="13.51 3.68"/>
<polygon points="779.5,704.6 770.8,699.8 777.8,694.8" fill="#000"/>
<line x1="721.7" y1="637" x2="733.7" y2="625" stroke="#000" stroke-width="1"/>
<rect x="759.5" y="607.5" width="46" height="17" fill="#bfffbf" stroke="#000" stroke-width="1" shape-rendering="crispEdges"/>
<text x="782.5" y="620.5" text-anchor="middle" font-size="12">Bax</text>
<rect x="759.5" y="630.5" width="46" height="17" fill="#bfffbf" stroke="#000" stroke-width="1" shape-rendering="crispEdges"/>
<text x="782.5" y="643.5" text-anchor="middle" font-size="12">PUMA</text>
<line x1="790.5" y1="648" x2="857.2" y2="738.2" stroke="#000" stroke-width="1" stroke-dasharray="13.68 3.73"/>
<polygon points="862.0,744.6 853.2,739.9 860.1,734.8" fill="#000"/>
<rect x="390.5" y="509.5" width="117" height="35" rx="11" ry="11" fill="#fff" stroke="#000" stroke-width="1"/>
<text x="447.5" y="525.7" font-size="12" text-anchor="middle">Calcium signaling</text>
<text x="447.5" y="536.9" font-size="12" text-anchor="middle">pathway</text>
<rect x="143.5" y="558.5" width="93" height="35" rx="11" ry="11" fill="#fff" stroke="#000" stroke-width="1"/>
<text x="190.0" y="574.7" font-size="12" text-anchor="middle">Glutamatergic</text>
<text x="190.0" y="586.0" font-size="12" text-anchor="middle">synapse</text>
<rect x="285.5" y="558.5" width="46" height="17" fill="#bfffbf" stroke="#000" stroke-width="1" shape-rendering="crispEdges"/>
<text x="308.5" y="571.5" text-anchor="middle" font-size="12">mGluR5</text>
<rect x="366.5" y="558.5" width="46" height="17" fill="#bfffbf" stroke="#000" stroke-width="1" shape-rendering="crispEdges"/>
<text x="389.5" y="571.5" text-anchor="middle" font-size="12">G</text>
<rect x="447.5" y="558.5" width="46" height="17" fill="#bfffbf" stroke="#000" stroke-width="1" shape-rendering="crispEdges"/>
<text x="468.0" y="571.5" text-anchor="middle" font-size="12">PLC</text>
<line x1="332" y1="566.5" x2="357.0" y2="566.5" stroke="#000" stroke-width="1" shape-rendering="crispEdges"/>
<polygon points="366.0,566.5 356.0,570.8 356.0,562.2" fill="#000"/>
<line x1="413" y1="565.5" x2="438.0" y2="565.5" stroke="#000" stroke-width="1" shape-rendering="crispEdges"/>
<polygon points="447.0,565.5 437.0,569.8 437.0,561.2" fill="#000"/>
<rect x="412.5" y="585.5" width="46" height="17" fill="#bfffbf" stroke="#000" stroke-width="1" shape-rendering="crispEdges"/>
<text x="435.5" y="598.5" text-anchor="middle" font-size="12" style="fill:#f00">Htt</text>
<line x1="412" y1="594.4" x2="398.5" y2="600.5" stroke="#000" stroke-width="1"/>
<line x1="393" y1="596.5" x2="404" y2="604.5" stroke="#000" stroke-width="1"/>
<rect x="348.5" y="604.5" width="46" height="17" fill="#bfffbf" stroke="#000" stroke-width="1" shape-rendering="crispEdges"/>
<text x="371.5" y="617.5" text-anchor="middle" font-size="12">STX1A</text>
<line x1="348" y1="613.7" x2="333" y2="626.5" stroke="#000" stroke-width="1"/>
<line x1="327.7" y1="622" x2="338.5" y2="631.4" stroke="#000" stroke-width="1"/>
<rect x="285.5" y="634.5" width="46" height="17" fill="#bfffbf" stroke="#000" stroke-width="1" shape-rendering="crispEdges"/>
<text x="308.5" y="647.5" text-anchor="middle" font-size="12">VGCC</text>
<line x1="268" y1="642.5" x2="285" y2="642.5" stroke="#000" stroke-width="1" shape-rendering="crispEdges"/>
<line x1="332" y1="642.5" x2="349.5" y2="642.5" stroke="#000" stroke-width="1" shape-rendering="crispEdges"/>
<polygon points="358.5,642.5 348.5,646.8 348.5,638.2" fill="#000"/>
<circle cx="362.5" cy="643" r="4" fill="#fff" stroke="#000" stroke-width="1.2"/>
<text x="345.7" y="665.1" font-size="12">Ca</text>
<text x="356" y="657.7" font-size="10">2+</text>
<line x1="366" y1="646" x2="408.6" y2="675.6" stroke="#000" stroke-width="1" stroke-dasharray="13.39 3.65"/>
<polygon points="416.0,680.7 405.3,678.5 410.2,671.5" fill="#000"/>
<line x1="473" y1="576" x2="512.3" y2="624.0" stroke="#000" stroke-width="1"/>
<polygon points="518.0,631.0 508.3,626.0 515.0,620.5" fill="#000"/>
<text x="521.6" y="631.4" font-size="12">IP<tspan font-size="9">3</tspan></text>
<circle cx="524.6" cy="638.5" r="4" fill="#fff" stroke="#000" stroke-width="1.2"/>
<line x1="527" y1="642" x2="548.9" y2="669.6" stroke="#000" stroke-width="1"/>
<polygon points="554.5,676.7 544.9,671.5 551.7,666.2" fill="#000"/>
<text x="405.8" y="656.0" font-size="12">Calcium homeostasis</text>
<text x="405.8" y="667.2" font-size="12">dysregulation</text>
<text x="553.8" y="660.1" font-size="12">Endoplasmic reticulum (ER)</text>
<rect x="285.5" y="681.5" width="46" height="17" fill="#bfffbf" stroke="#000" stroke-width="1" shape-rendering="crispEdges"/>
<text x="308.5" y="694.5" text-anchor="middle" font-size="12">NMDAR</text>
<line x1="265" y1="690.5" x2="285" y2="690.5" stroke="#000" stroke-width="1" shape-rendering="crispEdges"/>
<line x1="332" y1="690.5" x2="405.0" y2="690.5" stroke="#000" stroke-width="1" shape-rendering="crispEdges"/>
<polygon points="413.0,690.5 404.0,694.8 404.0,686.2" fill="#000"/>
<circle cx="417.3" cy="690.5" r="4" fill="#fff" stroke="#000" stroke-width="1.2"/>
<rect x="540.5" y="681.5" width="46" height="17" fill="#bfffbf" stroke="#000" stroke-width="1" shape-rendering="crispEdges"/>
<text x="563.5" y="694.5" text-anchor="middle" font-size="12">IP<tspan font-size="9">3</tspan>R1</text>
<line x1="587" y1="690.5" x2="612" y2="690.5" stroke="#000" stroke-width="1" shape-rendering="crispEdges"/>
<line x1="540" y1="690.5" x2="430.0" y2="690.5" stroke="#000" stroke-width="1" shape-rendering="crispEdges"/>
<polygon points="422.0,690.5 431.0,686.2 431.0,694.8" fill="#000"/>
<rect x="491.5" y="714.5" width="46" height="17" fill="#bfffbf" stroke="#000" stroke-width="1" shape-rendering="crispEdges"/>
<text x="514.5" y="727.5" text-anchor="middle" font-size="12" style="fill:#f00">Htt</text>
<line x1="520.5" y1="714" x2="533.2" y2="700.9" stroke="#000" stroke-width="1"/>
<polygon points="539.5,694.5 535.6,704.7 529.4,698.7" fill="#000"/>
<text x="401.7" y="712.0" font-size="12">Ca</text>
<text x="411.9" y="704.7" font-size="10">2+</text>
<rect x="340.5" y="713.5" width="46" height="17" fill="#bfffbf" stroke="#000" stroke-width="1" shape-rendering="crispEdges"/>
<text x="363.5" y="726.5" text-anchor="middle" font-size="12">PSD95</text>
<line x1="349.7" y1="713" x2="338.0" y2="701.7" stroke="#000" stroke-width="1"/>
<polygon points="331.5,695.5 341.7,699.3 335.7,705.5" fill="#000"/>
<line x1="367.4" y1="731" x2="387" y2="750" stroke="#000" stroke-width="1"/>
<line x1="372.6" y1="747" x2="384.6" y2="735" stroke="#000" stroke-width="1"/>
<rect x="364.5" y="750.5" width="46" height="17" fill="#bfffbf" stroke="#000" stroke-width="1" shape-rendering="crispEdges"/>
<text x="387.5" y="763.5" text-anchor="middle" font-size="12" style="fill:#f00">Htt</text>
<rect x="285.5" y="775.5" width="46" height="17" fill="#bfffbf" stroke="#000" stroke-width="1" shape-rendering="crispEdges"/>
<text x="308.5" y="788.5" text-anchor="middle" font-size="12">AMPA</text>
<line x1="268" y1="783.5" x2="285" y2="783.5" stroke="#000" stroke-width="1" shape-rendering="crispEdges"/>
<line x1="332" y1="783.5" x2="349.5" y2="783.5" stroke="#000" stroke-width="1" shape-rendering="crispEdges"/>
<polygon points="358.5,783.5 348.5,787.8 348.5,779.2" fill="#000"/>
<circle cx="362.6" cy="784" r="4" fill="#fff" stroke="#000" stroke-width="1.2"/>
<text x="355.9" y="800.3" font-size="12">Na</text>
<text x="367.5" y="792.7" font-size="11">+</text>
<line x1="377" y1="795.5" x2="406.6" y2="828.3" stroke="#000" stroke-width="1" stroke-dasharray="14.82 4.04"/>
<polygon points="412.6,835.0 402.7,830.5 409.1,824.7" fill="#000"/>
<text x="373.5" y="852.7" font-size="12">Hyperexcitability</text>
<text x="373.5" y="868.2" font-size="12">Toxicity</text>
<text x="258" y="808.7" font-size="12">Accumulation of</text>
<text x="258" y="819.9" font-size="12">glutamate in the</text>
<text x="258" y="830.9" font-size="12">synaptic cleft</text>
<text x="19.5" y="710.7" font-size="12">Corticostriatal terminal</text>
<text x="215.6" y="706.9" font-size="12">Glutamate</text>
<circle cx="243.5" cy="717.4" r="4" fill="#fff" stroke="#000" stroke-width="1.2"/>
<line x1="241" y1="697" x2="281.9" y2="584.0" stroke="#000" stroke-width="1"/>
<polygon points="285.0,575.5 285.6,586.4 277.6,583.4" fill="#000"/>
<line x1="248" y1="715.5" x2="275.2" y2="704.0" stroke="#000" stroke-width="1"/>
<polygon points="283.5,700.5 276.0,708.4 272.6,700.4" fill="#000"/>
<line x1="249.6" y1="725" x2="279.2" y2="765.2" stroke="#000" stroke-width="1"/>
<polygon points="284.5,772.5 275.1,767.0 282.0,761.9" fill="#000"/>
<line x1="243.5" y1="722" x2="242.6" y2="886.0" stroke="#000" stroke-width="1" stroke-dasharray="11.00 3.00"/>
<polygon points="242.5,895.0 238.3,885.0 246.9,885.0" fill="#000"/>
<circle cx="242" cy="903.5" r="4" fill="#fff" stroke="#000" stroke-width="1.2"/>
<rect x="151.5" y="895.5" width="46" height="17" fill="#bfffbf" stroke="#000" stroke-width="1" shape-rendering="crispEdges"/>
<text x="174.5" y="908.5" text-anchor="middle" font-size="12">EAAT</text>
<line x1="198" y1="904.5" x2="238" y2="904.5" stroke="#000" stroke-width="1" shape-rendering="crispEdges"/>
<line x1="214" y1="910" x2="224" y2="900" stroke="#000" stroke-width="1"/>
<line x1="151" y1="904.5" x2="139.7" y2="904.5" stroke="#000" stroke-width="1" shape-rendering="crispEdges"/>
<polygon points="130.7,904.5 140.7,900.2 140.7,908.8" fill="#000"/>
<text x="217.3" y="921.7" font-size="12">Glutamate</text>
<text x="44" y="899.5" font-size="12">Astrocyte</text>
<rect x="52.5" y="938.5" width="46" height="17" fill="#bfffbf" stroke="#000" stroke-width="1" shape-rendering="crispEdges"/>
<text x="75.5" y="951.5" text-anchor="middle" font-size="12" style="fill:#f00">Htt</text>
<line x1="79.8" y1="956" x2="98.5" y2="993" stroke="#000" stroke-width="1" stroke-dasharray="12.33 3.36"/>
<line x1="93" y1="995.6" x2="105" y2="990.5" stroke="#000" stroke-width="1"/>
<line x1="223.4" y1="961" x2="201" y2="914.4" stroke="#000" stroke-width="1"/>
<line x1="194" y1="919" x2="207" y2="911.6" stroke="#000" stroke-width="1"/>
<text x="202" y="975.7" font-size="12">Aberrant K</text>
<text x="253.5" y="971.2" font-size="12">+</text>
<text x="202" y="987.2" font-size="12">homeostasis</text>
<text x="202" y="998.0" font-size="12">(extracellular)</text>
<line x1="116.5" y1="990" x2="116.5" y2="975.5" stroke="#000" stroke-width="1" shape-rendering="crispEdges"/>
<polygon points="116.5,966.5 120.8,976.5 112.2,976.5" fill="#000"/>
<rect x="95.5" y="1007.5" width="46" height="17" fill="#bfffbf" stroke="#000" stroke-width="1" shape-rendering="crispEdges"/>
<text x="118.5" y="1020.5" text-anchor="middle" font-size="12">Kir4.1</text>
<line x1="116.5" y1="1042" x2="116.5" y2="1069" stroke="#000" stroke-width="1" shape-rendering="crispEdges"/>
<line x1="109.5" y1="1061" x2="123.5" y2="1049" stroke="#000" stroke-width="1"/>
<circle cx="117" cy="1073" r="4" fill="#fff" stroke="#000" stroke-width="1.2"/>
<text x="121.6" y="1087.7" font-size="12">K</text>
<text x="126.5" y="1081.2" font-size="12">+</text>
<line x1="148.4" y1="1079.5" x2="224.5" y2="1007.6" stroke="#000" stroke-width="1" stroke-dasharray="15.13 4.13"/>
<polygon points="231.0,1001.4 226.7,1011.4 220.8,1005.1" fill="#000"/>
<text x="15.3" y="1298.0" font-size="12">05016 10/6/20</text>
<text x="15.3" y="1310.4" font-size="12">(c) Kanehisa Laboratories</text>
<line x1="435.7" y1="710.6" x2="522.3" y2="748.4" stroke="#000" stroke-width="1" stroke-dasharray="12.00 3.27"/>
<polygon points="530.5,752.0 519.6,751.9 523.1,744.1" fill="#000"/>
<line x1="437" y1="719.8" x2="499.9" y2="769.2" stroke="#000" stroke-width="1"/>
<polygon points="507.0,774.8 496.5,772.0 501.8,765.2" fill="#000"/>
<path d="M424.4,711 L521,851 Q526,858.5 536,858.5 L800,858.5" fill="none" stroke="#000" stroke-width="1" stroke-dasharray="11 3"/>
<polygon points="809.0,858.5 799.0,862.8 799.0,854.2" fill="#000"/>
<line x1="419.7" y1="709.6" x2="427.4" y2="828.0" stroke="#000" stroke-width="1" stroke-dasharray="11.02 3.01"/>
<polygon points="428.0,837.0 423.1,827.3 431.6,826.7" fill="#000"/>
<text x="533.4" y="750.0" font-size="12">Increased Htt</text>
<text x="533.4" y="761.2" font-size="12">proteolysis</text>
<rect x="496.5" y="777.5" width="46" height="17" fill="#bfffbf" stroke="#000" stroke-width="1" shape-rendering="crispEdges"/>
<text x="519.5" y="790.5" text-anchor="middle" font-size="12">tTG</text>
<path d="M524,795 L548,814 Q556,822.5 568,822.5 L583,822.5" fill="none" stroke="#000" stroke-width="1" stroke-dasharray="11 3"/>
<polygon points="592.0,822.5 582.0,826.8 582.0,818.2" fill="#000"/>
<text x="599.7" y="824.1" font-size="12">Modification of</text>
<text x="599.7" y="835.3" font-size="12">proteins</text>
<rect x="562.5" y="768.5" width="121" height="35" rx="11" ry="11" fill="#fff" stroke="#000" stroke-width="1"/>
<text x="621.3" y="782.9" font-size="12" text-anchor="middle">Oxidative</text>
<text x="621.3" y="794.1" font-size="12" text-anchor="middle">phosphorylation</text>
<rect x="632.5" y="744.5" width="46" height="17" fill="#bfffbf" stroke="#000" stroke-width="1" shape-rendering="crispEdges"/>
<text x="655.5" y="757.5" text-anchor="middle" font-size="12" style="fill:#f00">Htt</text>
<line x1="679" y1="752.5" x2="714" y2="752.5" stroke="#000" stroke-width="1" shape-rendering="crispEdges"/>
<line x1="714.5" y1="745" x2="714.5" y2="760" stroke="#000" stroke-width="1" shape-rendering="crispEdges"/>
<line x1="679" y1="754" x2="714" y2="782.6" stroke="#000" stroke-width="1"/>
<line x1="714.5" y1="776" x2="714.5" y2="790" stroke="#000" stroke-width="1" shape-rendering="crispEdges"/>
<rect x="721.5" y="715.5" width="46" height="17" fill="#bfffbf" stroke="#000" stroke-width="1" shape-rendering="crispEdges"/>
<text x="744.5" y="728.5" text-anchor="middle" font-size="12">Cx I</text>
<rect x="721.5" y="745.5" width="46" height="17" fill="#bfffbf" stroke="#000" stroke-width="1" shape-rendering="crispEdges"/>
<text x="744.5" y="758.5" text-anchor="middle" font-size="12">Cx II</text>
<rect x="721.5" y="775.5" width="46" height="17" fill="#bfffbf" stroke="#000" stroke-width="1" shape-rendering="crispEdges"/>
<text x="744.5" y="788.5" text-anchor="middle" font-size="12">Cx III</text>
<rect x="721.5" y="805.5" width="46" height="17" fill="#bfffbf" stroke="#000" stroke-width="1" shape-rendering="crispEdges"/>
<text x="744.5" y="818.5" text-anchor="middle" font-size="12">Cx IV</text>
<rect x="721.5" y="835.5" width="46" height="17" fill="#bfffbf" stroke="#000" stroke-width="1" shape-rendering="crispEdges"/>
<text x="744.5" y="848.5" text-anchor="middle" font-size="12">Cx V</text>
<line x1="777" y1="752.5" x2="823.0" y2="752.5" stroke="#000" stroke-width="1" stroke-dasharray="11.00 3.00"/>
<polygon points="832.0,752.5 822.0,756.8 822.0,748.2" fill="#000"/>
<text x="838" y="757.2" font-size="12">Mitochondrial dysfunction</text>
<text x="919.9" y="782.3" font-size="12">ATP depletion</text>
<text x="911.4" y="801.0" font-size="12">Fall in mitochondrial</text>
<text x="911.4" y="812.2" font-size="12">membrane potential</text>
<text x="919.9" y="831.9" font-size="12">Increased ROS</text>
<text x="816" y="864.1" font-size="12">Ca</text>
<text x="823.8" y="855.2" font-size="10">2+</text>
<text x="834" y="864.1" font-size="12">overload</text>
<line x1="877.4" y1="859.7" x2="895.5" y2="873.0" stroke="#000" stroke-width="1" stroke-dasharray="7.45 2.48"/>
<polygon points="902.0,877.7 892.2,875.9 897.3,868.9" fill="#000"/>
<line x1="924.5" y1="854" x2="924.5" y2="878" stroke="#000" stroke-width="1" shape-rendering="crispEdges"/>
<rect x="902.5" y="878.5" width="46" height="17" fill="#bfffbf" stroke="#000" stroke-width="1" shape-rendering="crispEdges"/>
<text x="925.5" y="891.5" text-anchor="middle" font-size="12">mPTP</text>
<line x1="924.5" y1="896" x2="924.5" y2="903.0" stroke="#000" stroke-width="1" shape-rendering="crispEdges"/>
<polygon points="924.5,912.0 920.2,902.0 928.8,902.0" fill="#000"/>
<rect x="902.5" y="913.5" width="46" height="17" fill="#bfffbf" stroke="#000" stroke-width="1" shape-rendering="crispEdges"/>
<text x="925.5" y="926.5" text-anchor="middle" font-size="12">CytC</text>
<rect x="902.5" y="947.5" width="46" height="17" fill="#bfffbf" stroke="#000" stroke-width="1" shape-rendering="crispEdges"/>
<text x="925.5" y="960.5" text-anchor="middle" font-size="12">Apaf1</text>
<path d="M949,920.5 L962,920.5 Q971,920.5 971,930 Q971,940.5 981,940.5" fill="none" stroke="#000" stroke-width="1"/>
<path d="M949,957.5 L962,957.5 Q971,957.5 971,950 Q971,940.5 981,940.5" fill="none" stroke="#000" stroke-width="1"/>
<line x1="975" y1="940.5" x2="983.0" y2="940.5" stroke="#000" stroke-width="1" shape-rendering="crispEdges"/>
<polygon points="992.0,940.5 982.0,944.8 982.0,936.2" fill="#000"/>
<rect x="992.5" y="932.5" width="46" height="17" fill="#bfffbf" stroke="#000" stroke-width="1" shape-rendering="crispEdges"/>
<text x="1015.5" y="945.5" text-anchor="middle" font-size="12">CASP9</text>
<line x1="1039" y1="941.5" x2="1055.0" y2="941.5" stroke="#000" stroke-width="1" shape-rendering="crispEdges"/>
<polygon points="1064.0,941.5 1054.0,945.8 1054.0,937.2" fill="#000"/>
<rect x="1064.5" y="932.5" width="46" height="17" fill="#bfffbf" stroke="#000" stroke-width="1" shape-rendering="crispEdges"/>
<text x="1087.5" y="945.5" text-anchor="middle" font-size="12">CASP3</text>
<path d="M1111,941.5 L1124,941.5 Q1134,942 1142,948 L1158,960" fill="none" stroke="#000" stroke-width="1" stroke-dasharray="11 3"/>
<polygon points="1165.0,964.5 1155.1,963.1 1159.9,955.9" fill="#000"/>
<text x="1164" y="977.0" font-size="12">Apoptosis</text>
<text x="795.6" y="912.3" font-size="12">Mitochondria</text>
<text x="386" y="925.9" font-size="12" font-weight="bold">ER stress</text>
<text x="490" y="929.8" font-size="12">ER</text>
<rect x="550.5" y="901.5" width="93" height="26" rx="13" ry="13" fill="#fff" stroke="#000" stroke-width="1"/>
<text x="593.6" y="918.2" font-size="12" text-anchor="middle">Proteasome</text>
<rect x="670.5" y="903.5" width="46" height="17" fill="#bfffbf" stroke="#000" stroke-width="1" shape-rendering="crispEdges"/>
<text x="693.5" y="916.5" text-anchor="middle" font-size="12" style="fill:#f00">Htt</text>
<line x1="670" y1="911.6" x2="636.7" y2="935.4" stroke="#000" stroke-width="1"/>
<line x1="631" y1="931.3" x2="642.8" y2="940.5" stroke="#000" stroke-width="1"/>
<line x1="698" y1="921" x2="728.5" y2="955.3" stroke="#000" stroke-width="1"/>
<polygon points="734.5,962.0 724.6,957.4 731.1,951.7" fill="#000"/>
<rect x="587.5" y="942.5" width="46" height="17" fill="#bfffbf" stroke="#000" stroke-width="1" shape-rendering="crispEdges"/>
<text x="608.8" y="955.5" text-anchor="middle" font-size="12">20S</text>
<rect x="587.5" y="959.5" width="46" height="17" fill="#bfffbf" stroke="#000" stroke-width="1" shape-rendering="crispEdges"/>
<text x="607.5" y="972.5" text-anchor="middle" font-size="12">19S</text>
<text x="637.7" y="963.3" font-size="12">26S</text>
<text x="637.7" y="974.3" font-size="12">proteasome</text>
<rect x="722.5" y="964.5" width="46" height="17" fill="#bfffbf" stroke="#000" stroke-width="1" shape-rendering="crispEdges"/>
<text x="745.5" y="977.5" text-anchor="middle" font-size="12">MLK2</text>
<text x="761.6" y="992.3" font-size="12">+p</text>
<line x1="748" y1="982" x2="768.3" y2="1000.5" stroke="#000" stroke-width="1"/>
<polygon points="775.0,1006.5 764.7,1003.0 770.5,996.6" fill="#000"/>
<rect x="537.5" y="1009.5" width="46" height="17" fill="#bfffbf" stroke="#000" stroke-width="1" shape-rendering="crispEdges"/>
<text x="559.0" y="1022.5" text-anchor="middle" font-size="12">Ire1&#945;</text>
<rect x="583.5" y="1009.5" width="46" height="17" fill="#bfffbf" stroke="#000" stroke-width="1" shape-rendering="crispEdges"/>
<text x="606.5" y="1022.5" text-anchor="middle" font-size="12">TRAF2</text>
<rect x="666.5" y="1009.5" width="46" height="17" fill="#bfffbf" stroke="#000" stroke-width="1" shape-rendering="crispEdges"/>
<text x="689.5" y="1022.5" text-anchor="middle" font-size="12">ASK1</text>
<rect x="748.5" y="1009.5" width="46" height="17" fill="#bfffbf" stroke="#000" stroke-width="1" shape-rendering="crispEdges"/>
<text x="771.5" y="1022.5" text-anchor="middle" font-size="12">MKK7</text>
<rect x="833.5" y="1009.5" width="46" height="17" fill="#bfffbf" stroke="#000" stroke-width="1" shape-rendering="crispEdges"/>
<text x="856.5" y="1022.5" text-anchor="middle" font-size="12">JNK</text>
<line x1="630" y1="1017.5" x2="657.0" y2="1017.5" stroke="#000" stroke-width="1" shape-rendering="crispEdges"/>
<polygon points="666.0,1017.5 656.0,1021.8 656.0,1013.2" fill="#000"/>
<line x1="712" y1="1018.5" x2="739.0" y2="1018.5" stroke="#000" stroke-width="1" shape-rendering="crispEdges"/>
<polygon points="748.0,1018.5 738.0,1022.8 738.0,1014.2" fill="#000"/>
<line x1="795" y1="1017.5" x2="824.0" y2="1017.5" stroke="#000" stroke-width="1" shape-rendering="crispEdges"/>
<polygon points="833.0,1017.5 823.0,1021.8 823.0,1013.2" fill="#000"/>
<text x="805.8" y="1007.2" font-size="12">+p</text>
<path d="M886.6,1017.5 L1134,1017.5 Q1144,1017.5 1149,1008 L1157,991" fill="none" stroke="#000" stroke-width="1" stroke-dasharray="11 3"/>
<polygon points="1162.0,981.5 1161.8,991.5 1154.1,987.6" fill="#000"/>
<rect x="1019.5" y="969.5" width="117" height="26" rx="13" ry="13" fill="#fff" stroke="#000" stroke-width="1"/>
<text x="1078.0" y="984.7" font-size="12" text-anchor="middle">Apoptosis</text>
<text x="479.8" y="997.3" font-size="12">ER stress</text>
<line x1="583.4" y1="964" x2="537.9" y2="989.1" stroke="#000" stroke-width="1" stroke-dasharray="12.56 3.43"/>
<polygon points="530.0,993.5 536.7,984.9 540.8,992.4" fill="#000"/>
<line x1="495" y1="1002.5" x2="523.6" y2="1013.3" stroke="#000" stroke-width="1" stroke-dasharray="11.76 3.21"/>
<polygon points="532.0,1016.5 521.1,1017.0 524.2,1008.9" fill="#000"/>
<rect x="431.5" y="1062.5" width="152" height="35" rx="11" ry="11" fill="#fff" stroke="#000" stroke-width="1"/>
<text x="450" y="1078.4" font-size="12">Protein processing in</text>
<text x="450" y="1089.5" font-size="12">endoplasmic reticulum</text>
<text x="496" y="1138.4" font-size="12" font-weight="bold">Impairment of autophagy</text>
<rect x="549.5" y="1179.5" width="46" height="17" fill="#bfffbf" stroke="#000" stroke-width="1" shape-rendering="crispEdges"/>
<text x="572.5" y="1192.5" text-anchor="middle" font-size="12">ULK1/2</text>
<rect x="595.5" y="1179.5" width="46" height="17" fill="#bfffbf" stroke="#000" stroke-width="1" shape-rendering="crispEdges"/>
<text x="618.5" y="1192.5" text-anchor="middle" font-size="12">ATG101</text>
<rect x="549.5" y="1196.5" width="46" height="17" fill="#bfffbf" stroke="#000" stroke-width="1" shape-rendering="crispEdges"/>
<text x="572.5" y="1209.5" text-anchor="middle" font-size="12">ATG13</text>
<rect x="595.5" y="1196.5" width="46" height="17" fill="#bfffbf" stroke="#000" stroke-width="1" shape-rendering="crispEdges"/>
<text x="618.5" y="1209.5" text-anchor="middle" font-size="12">FIP200</text>
<text x="552.8" y="1232.2" font-size="12">ULK complex</text>
<rect x="454.5" y="1179.5" width="46" height="17" fill="#bfffbf" stroke="#000" stroke-width="1" shape-rendering="crispEdges"/>
<text x="477.5" y="1192.5" text-anchor="middle" font-size="12">mTOR</text>
<line x1="501" y1="1187.5" x2="542" y2="1187.5" stroke="#000" stroke-width="1" shape-rendering="crispEdges"/>
<line x1="542.5" y1="1181" x2="542.5" y2="1195" stroke="#000" stroke-width="1" shape-rendering="crispEdges"/>
<text x="519.9" y="1181.3" font-size="12">+p</text>
<rect x="432.5" y="1207.5" width="90" height="35" rx="11" ry="11" fill="#fff" stroke="#000" stroke-width="1"/>
<text x="450" y="1223.7" font-size="12">Autophagy</text>
<text x="450" y="1234.5" font-size="12">- animal</text>
<line x1="642" y1="1203.5" x2="711.0" y2="1203.5" stroke="#000" stroke-width="1" shape-rendering="crispEdges"/>
<polygon points="720.0,1203.5 710.0,1207.8 710.0,1199.2" fill="#000"/>
<text x="689.6" y="1213.5" font-size="12">+p</text>
<rect x="689.5" y="1112.5" width="46" height="17" fill="#bfffbf" stroke="#000" stroke-width="1" shape-rendering="crispEdges"/>
<text x="714.5" y="1125.5" text-anchor="middle" font-size="12" style="fill:#f00">Htt</text>
<rect x="673.5" y="1144.5" width="46" height="17" fill="#bfffbf" stroke="#000" stroke-width="1" shape-rendering="crispEdges"/>
<text x="696.5" y="1157.5" text-anchor="middle" font-size="12" textLength="44" lengthAdjust="spacingAndGlyphs">AMBRA1</text>
<line x1="698.8" y1="1162" x2="748.8" y2="1191.9" stroke="#000" stroke-width="1"/>
<polygon points="756.5,1196.5 745.7,1195.1 750.1,1187.7" fill="#000"/>
<text x="697.8" y="1181.3" font-size="12">+p</text>
<line x1="724.3" y1="1130" x2="780.3" y2="1191.8" stroke="#000" stroke-width="1"/>
<line x1="774.5" y1="1192.5" x2="788" y2="1192.5" stroke="#000" stroke-width="1" shape-rendering="crispEdges"/>
<rect x="758.5" y="1197.5" width="46" height="17" fill="#bfffbf" stroke="#000" stroke-width="1" shape-rendering="crispEdges"/>
<text x="781.5" y="1210.5" text-anchor="middle" font-size="12">Beclin 1</text>
<rect x="758.5" y="1214.5" width="46" height="17" fill="#bfffbf" stroke="#000" stroke-width="1" shape-rendering="crispEdges"/>
<text x="781.5" y="1227.5" text-anchor="middle" font-size="12">VPS15</text>
<rect x="804.5" y="1180.5" width="46" height="17" fill="#bfffbf" stroke="#000" stroke-width="1" shape-rendering="crispEdges"/>
<text x="827.5" y="1193.5" text-anchor="middle" font-size="12">ATG14</text>
<rect x="804.5" y="1197.5" width="46" height="17" fill="#bfffbf" stroke="#000" stroke-width="1" shape-rendering="crispEdges"/>
<text x="827.5" y="1210.5" text-anchor="middle" font-size="12">NRBF2</text>
<rect x="804.5" y="1214.5" width="46" height="17" fill="#bfffbf" stroke="#000" stroke-width="1" shape-rendering="crispEdges"/>
<text x="827.5" y="1227.5" text-anchor="middle" font-size="12">VPS34</text>
<text x="737.9" y="1246.2" font-size="12">PI3K complex</text>
<line x1="851" y1="1222.5" x2="886.5" y2="1222.5" stroke="#000" stroke-width="1" shape-rendering="crispEdges"/>
<polygon points="895.5,1222.5 885.5,1226.8 885.5,1218.2" fill="#000"/>
<circle cx="899.5" cy="1222.5" r="4" fill="#fff" stroke="#000" stroke-width="1.2"/>
<line x1="904" y1="1222.5" x2="938.0" y2="1222.5" stroke="#000" stroke-width="1" shape-rendering="crispEdges"/>
<polygon points="947.0,1222.5 937.0,1226.8 937.0,1218.2" fill="#000"/>
<text x="887.6" y="1214.2" font-size="12">PI3P</text>
<rect x="947.5" y="1179.5" width="46" height="17" fill="#bfffbf" stroke="#000" stroke-width="1" shape-rendering="crispEdges"/>
<text x="970.5" y="1192.5" text-anchor="middle" font-size="12">ATG2</text>
<rect x="947.5" y="1214.5" width="46" height="17" fill="#bfffbf" stroke="#000" stroke-width="1" shape-rendering="crispEdges"/>
<text x="970.5" y="1227.5" text-anchor="middle" font-size="12">WIPI</text>
<line x1="970.5" y1="1197" x2="970.5" y2="1214" stroke="#000" stroke-width="1" shape-rendering="crispEdges"/>
<text x="935.8" y="1079.7" font-size="12">Phagophore</text>
<text x="895.8" y="1116.1" font-size="12">ULK complex</text>
<text x="895.8" y="1130.4" font-size="12">PI3K complex</text>
<text x="895.8" y="1143.9" font-size="12">ATG5-ATG12-ATG16</text>
<text x="895.8" y="1155.1" font-size="12">conjugate</text>
<text x="897.8" y="1168.7" font-size="12">LC3-PE</text>
</svg>
</body></html>
